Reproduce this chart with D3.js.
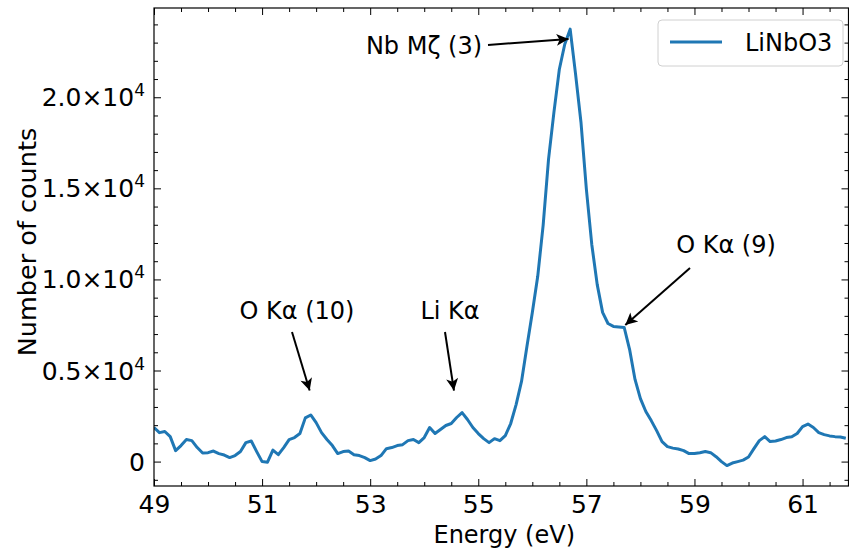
<!DOCTYPE html>
<html>
<head>
<meta charset="utf-8">
<script src="https://cdn.jsdelivr.net/npm/d3@7"></script>
<style>
  html, body { margin: 0; padding: 0; background: #fff; }
  svg { display: block; font-family: "DejaVu Sans", sans-serif; }
</style>
</head>
<body>
<svg id="chart" width="849" height="549"></svg>
<script>
// ---- data ----
const energy = d3.range(129).map(i => +(49 + i * 0.1).toFixed(1));
const counts = [
  1870, 1590, 1650, 1370, 600, 880, 1210, 1150, 770, 470,
  490, 580, 440, 360, 220, 330, 550, 1040, 1130, 550,
  0, -30, 630, 380, 770, 1210, 1320, 1540, 2400, 2560,
  2140, 1590, 1210, 880, 440, 550, 580, 380, 330, 220,
  55, 140, 330, 710, 770, 880, 930, 1150, 1210, 1040,
  1320, 1870, 1540, 1760, 1980, 2090, 2420, 2690, 2310, 1870,
  1540, 1260, 1040, 1260, 1150, 1430, 2090, 3130, 4400, 6320,
  8190, 10170, 12970, 16600, 19180, 21540, 22910, 23740, 21270, 18630,
  14950, 11920, 9730, 8190, 7580, 7420, 7390, 7360, 6150, 4510,
  3460, 2750, 2250, 1700, 1100, 820, 740, 690, 600, 440,
  440, 490, 550, 490, 270, 0, -220, -80, 0, 80,
  250, 710, 1150, 1370, 1100, 1130, 1210, 1320, 1360, 1540,
  1920, 2060, 1870, 1590, 1480, 1410, 1370, 1350, 1280
];
const seriesName = "LiNbO3";
const xMajorTicks = [49, 51, 53, 55, 57, 59, 61];
const yMajorTicks = [0, 5000, 10000, 15000, 20000];
const yTickLabels = ["0", "0.5×10^4", "1.0×10^4", "1.5×10^4", "2.0×10^4"];
const annotations = [
  { text: "Nb Mζ (3)", tx: 424, ty: 54, x: 56.67, y: 23200, ax: 488, ay: 45 },
  { text: "O Kα (9)", tx: 726, ty: 253, x: 57.72, y: 7500, ax: 690, ay: 268 },
  { text: "O Kα (10)", tx: 297, ty: 319, x: 51.88, y: 3900, ax: 292, ay: 332 },
  { text: "Li Kα", tx: 450, ty: 319, x: 54.55, y: 3900, ax: 445, ay: 332 }
];

// ---- layout ----
const FS = 24, FT = 25;
const svg = d3.select("#chart");
const L = 154, R = 848.5, T = 8, B = 486;
const x = d3.scaleLinear().domain([49, 61.85]).range([L, R]);
const y = d3.scaleLinear().domain([-1340, 24900]).range([B, T]);

const defs = svg.append("defs");
defs.append("marker").attr("id", "arrow").attr("viewBox", "0 0 10 10")
  .attr("refX", 10).attr("refY", 5).attr("markerWidth", 14).attr("markerHeight", 12)
  .attr("markerUnits", "userSpaceOnUse").attr("orient", "auto")
  .append("path").attr("d", "M0,0 L10,5 L0,10 L2.5,5 z").attr("fill", "#000");
defs.append("clipPath").attr("id", "clip").append("rect")
  .attr("x", L).attr("y", T).attr("width", R - L).attr("height", B - T);

// line
const line = d3.line().x((d, i) => x(energy[i])).y(d => y(d));
svg.append("path").datum(counts)
  .attr("clip-path", "url(#clip)")
  .attr("fill", "none").attr("stroke", "#1f77b4").attr("stroke-width", 3)
  .attr("stroke-linejoin", "round").attr("d", line);

// axes (ticks inward)
const xMinor = d3.range(49, 62, 0.5).filter(v => !xMajorTicks.includes(v));
const yMinor = d3.range(-1000, 25000, 1000).filter(v => !yMajorTicks.includes(v));

const gB = svg.append("g").attr("transform", `translate(0,${B})`)
  .call(d3.axisBottom(x).tickValues(xMajorTicks).tickFormat(d3.format("d")).tickSizeInner(-7).tickSizeOuter(0).tickPadding(11));
svg.append("g").attr("transform", `translate(0,${B})`)
  .call(d3.axisBottom(x).tickValues(xMinor).tickFormat("").tickSizeInner(-4).tickSizeOuter(0));
svg.append("g").attr("transform", `translate(0,${T})`)
  .call(d3.axisTop(x).tickValues(xMajorTicks).tickFormat("").tickSizeInner(-7).tickSizeOuter(0));
svg.append("g").attr("transform", `translate(0,${T})`)
  .call(d3.axisTop(x).tickValues(xMinor).tickFormat("").tickSizeInner(-4).tickSizeOuter(0));

svg.append("g").attr("transform", `translate(${L},0)`)
  .call(d3.axisLeft(y).tickValues(yMajorTicks).tickFormat("").tickSizeInner(-7).tickSizeOuter(0));
svg.append("g").attr("transform", `translate(${L},0)`)
  .call(d3.axisLeft(y).tickValues(yMinor).tickFormat("").tickSizeInner(-4).tickSizeOuter(0));
svg.append("g").attr("transform", `translate(${R},0)`)
  .call(d3.axisRight(y).tickValues(yMajorTicks).tickFormat("").tickSizeInner(-7).tickSizeOuter(0));
svg.append("g").attr("transform", `translate(${R},0)`)
  .call(d3.axisRight(y).tickValues(yMinor).tickFormat("").tickSizeInner(-4).tickSizeOuter(0));

svg.selectAll(".domain").remove();
svg.selectAll(".tick line").attr("stroke", "#000").attr("stroke-width", 1);
gB.selectAll(".tick text").attr("font-size", FT).attr("fill", "#000")
  .attr("font-family", "DejaVu Sans, sans-serif").attr("dy", "0.62em");

// y tick labels with superscripts
yMajorTicks.forEach((v, i) => {
  const parts = yTickLabels[i].split("^");
  const t = svg.append("text").attr("x", L - 9).attr("y", y(v) + 9)
    .attr("text-anchor", "end").attr("font-size", FT).attr("fill", "#000");
  if (parts.length === 1) {
    t.text(parts[0]);
  } else {
    t.append("tspan").text(parts[0]);
    t.append("tspan").attr("font-size", 17).attr("dy", -10).text(parts[1]);
  }
});

// frame
svg.append("rect").attr("x", L).attr("y", T).attr("width", R - L).attr("height", B - T)
  .attr("fill", "none").attr("stroke", "#000").attr("stroke-width", 1.2);

// axis labels
svg.append("text").attr("x", (L + R) / 2 + 3).attr("y", 543)
  .attr("text-anchor", "middle").attr("font-size", FS).text("Energy (eV)");
svg.append("text").attr("transform", `translate(36,${(T + B) / 2 - 5}) rotate(-90)`)
  .attr("text-anchor", "middle").attr("font-size", 25.5).text("Number of counts");

// annotations
annotations.forEach(a => {
  svg.append("text").attr("x", a.tx).attr("y", a.ty).attr("text-anchor", "middle")
    .attr("font-size", FS).attr("fill", "#000").text(a.text);
  svg.append("line").attr("x1", a.ax).attr("y1", a.ay)
    .attr("x2", x(a.x)).attr("y2", y(a.y))
    .attr("stroke", "#000").attr("stroke-width", 2).attr("marker-end", "url(#arrow)");
});

// legend
const lg = svg.append("g");
lg.append("rect").attr("x", 658).attr("y", 20).attr("width", 185).attr("height", 46)
  .attr("rx", 4).attr("fill", "#fff").attr("fill-opacity", 0.8)
  .attr("stroke", "#d0d0d0").attr("stroke-width", 1);
lg.append("line").attr("x1", 670).attr("x2", 722).attr("y1", 42).attr("y2", 42)
  .attr("stroke", "#1f77b4").attr("stroke-width", 3);
lg.append("text").attr("x", 745).attr("y", 51).attr("font-size", FS).text(seriesName);
</script>
</body>
</html>
